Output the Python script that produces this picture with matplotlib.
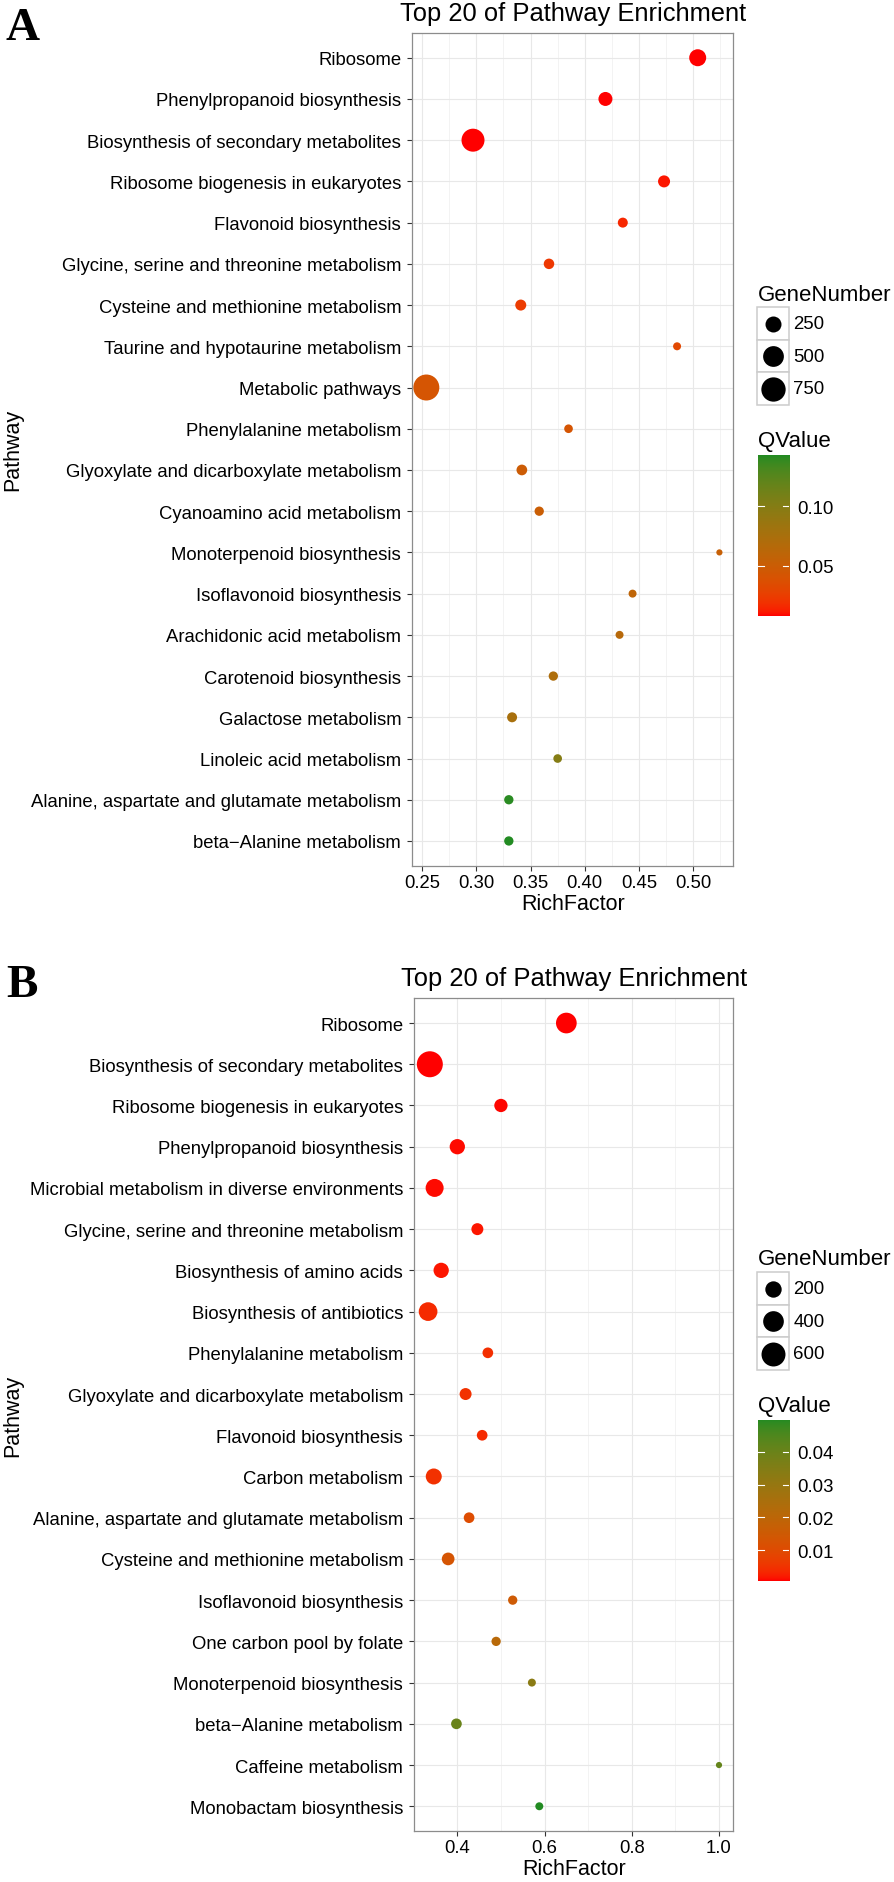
import numpy as np
import matplotlib
matplotlib.use("Agg")
import matplotlib.pyplot as plt
from matplotlib.colors import ListedColormap, Normalize
from matplotlib.patches import Rectangle

W, H, DPI = 894, 1883, 100
SANS = "Liberation Sans"
SERIF = "Liberation Serif"

# ---------------- panel A data ----------------
PATHWAYS_A = [
    "Ribosome", "Phenylpropanoid biosynthesis", "Biosynthesis of secondary metabolites",
    "Ribosome biogenesis in eukaryotes", "Flavonoid biosynthesis",
    "Glycine, serine and threonine metabolism", "Cysteine and methionine metabolism",
    "Taurine and hypotaurine metabolism", "Metabolic pathways", "Phenylalanine metabolism",
    "Glyoxylate and dicarboxylate metabolism", "Cyanoamino acid metabolism",
    "Monoterpenoid biosynthesis", "Isoflavonoid biosynthesis", "Arachidonic acid metabolism",
    "Carotenoid biosynthesis", "Galactose metabolism", "Linoleic acid metabolism",
    "Alanine, aspartate and glutamate metabolism", "beta\u2212Alanine metabolism",
]
RICH_A = [0.504, 0.419, 0.297, 0.473, 0.435, 0.367, 0.341, 0.485, 0.254, 0.385,
          0.342, 0.358, 0.524, 0.444, 0.432, 0.371, 0.333, 0.375, 0.330, 0.330]
GENES_A = [294, 174, 651, 116, 74, 83, 93, 50, 888, 56,
           87, 64, 43, 50, 50, 64, 74, 56, 64, 64]
QVAL_A = [0.0080, 0.0085, 0.0082, 0.011, 0.015, 0.022, 0.024, 0.032, 0.042, 0.042,
          0.049, 0.051, 0.053, 0.059, 0.065, 0.072, 0.076, 0.100, 0.141, 0.143]
RICH_TICKS_A = [0.25, 0.30, 0.35, 0.40, 0.45, 0.50]
RICH_LABELS_A = ["0.25", "0.30", "0.35", "0.40", "0.45", "0.50"]
XLIM_A = (0.2408, 0.5368)
SIZE_BREAKS_A = [250, 500, 750]
Q_BREAKS_A = [0.05, 0.10]

# ---------------- panel B data ----------------
PATHWAYS_B = [
    "Ribosome", "Biosynthesis of secondary metabolites", "Ribosome biogenesis in eukaryotes",
    "Phenylpropanoid biosynthesis", "Microbial metabolism in diverse environments",
    "Glycine, serine and threonine metabolism", "Biosynthesis of amino acids",
    "Biosynthesis of antibiotics", "Phenylalanine metabolism",
    "Glyoxylate and dicarboxylate metabolism", "Flavonoid biosynthesis", "Carbon metabolism",
    "Alanine, aspartate and glutamate metabolism", "Cysteine and methionine metabolism",
    "Isoflavonoid biosynthesis", "One carbon pool by folate", "Monoterpenoid biosynthesis",
    "beta\u2212Alanine metabolism", "Caffeine metabolism", "Monobactam biosynthesis",
]
RICH_B = [0.650, 0.337, 0.500, 0.400, 0.348, 0.446, 0.363, 0.333, 0.470, 0.419,
          0.457, 0.346, 0.427, 0.379, 0.527, 0.489, 0.571, 0.398, 1.000, 0.588]
GENES_B = [402, 745, 100, 161, 268, 68, 161, 300, 43, 68,
           43, 186, 43, 85, 23, 23, 11, 43, 5, 11]
QVAL_B = [0.0005, 0.0005, 0.0007, 0.0010, 0.0010, 0.0015, 0.0015, 0.0035, 0.0040, 0.0045,
          0.0035, 0.0045, 0.0105, 0.0130, 0.0150, 0.0210, 0.0330, 0.0400, 0.0410, 0.0498]
RICH_TICKS_B = [0.4, 0.6, 0.8, 1.0]
RICH_LABELS_B = ["0.4", "0.6", "0.8", "1.0"]
XLIM_B = (0.3007, 1.0328)
SIZE_BREAKS_B = [200, 400, 600]
Q_BREAKS_B = [0.01, 0.02, 0.03, 0.04]

# layout in reference pixels
LAYOUT_A = dict(left=412, right=733.3, top=34, bottom=866.7, letter="A", letter_xy=(6, 8),
                gene_title=301, keys_top=308.3, q_title=447, cbar_top=456, cbar_bottom=616.7)
LAYOUT_B = dict(left=414, right=733.3, top=999.3, bottom=1832, letter="B", letter_xy=(6, 965),
                gene_title=1265, keys_top=1273.3, q_title=1411.7, cbar_top=1420.7, cbar_bottom=1582.3)


def fx(x):
    return x / W


def fy(y):
    return 1 - y / H


# ggplot-like gradient (interpolated in CIE Lab)
def _to_lab(hexcol):
    rgb = np.array([int(hexcol[i:i + 2], 16) / 255 for i in (1, 3, 5)])
    lin = np.where(rgb <= 0.04045, rgb / 12.92, ((rgb + 0.055) / 1.055) ** 2.4)
    m = np.array([[0.4124, 0.3576, 0.1805], [0.2126, 0.7152, 0.0722], [0.0193, 0.1192, 0.9505]])
    xyz = m @ lin / np.array([0.95047, 1.0, 1.08883])
    f = np.where(xyz > (6 / 29) ** 3, np.cbrt(xyz), xyz / (3 * (6 / 29) ** 2) + 4 / 29)
    return np.array([116 * f[1] - 16, 500 * (f[0] - f[1]), 200 * (f[1] - f[2])])


def _from_lab(lab):
    fy_ = (lab[:, 0] + 16) / 116
    f = np.stack([fy_ + lab[:, 1] / 500, fy_, fy_ - lab[:, 2] / 200], axis=1)
    xyz = np.where(f > 6 / 29, f ** 3, 3 * (6 / 29) ** 2 * (f - 4 / 29)) * np.array([0.95047, 1.0, 1.08883])
    minv = np.linalg.inv(np.array([[0.4124, 0.3576, 0.1805], [0.2126, 0.7152, 0.0722], [0.0193, 0.1192, 0.9505]]))
    lin = xyz @ minv.T
    rgb = np.where(lin <= 0.0031308, 12.92 * lin, 1.055 * np.clip(lin, 0, None) ** (1 / 2.4) - 0.055)
    return np.clip(rgb, 0, 1)


lo, hi = _to_lab("#FF0000"), _to_lab("#228B22")
t = np.linspace(0, 1, 256)[:, None]
CMAP = ListedColormap(_from_lab(lo + t * (hi - lo)))


def diameter_px(v, vmin, vmax, dmin=6.2, dmax=26.0):
    v = np.asarray(v, dtype=float)
    return dmin + (dmax - dmin) * np.sqrt(np.clip((v - vmin) / (vmax - vmin), 0, 1))


def area_pt(d):
    return (d * 72 / DPI) ** 2


def draw_panel(fig, lay, pathways, rich, genes, qval, ticks, tick_labels, xlim, size_breaks, q_breaks):
    n = len(pathways)
    ax = fig.add_axes([fx(lay["left"]), fy(lay["bottom"]),
                       fx(lay["right"] - lay["left"]), (lay["bottom"] - lay["top"]) / H])
    gmin, gmax = min(genes), max(genes)
    qmin, qmax = min(qval), max(qval)
    norm = Normalize(qmin, qmax)
    ypos = np.arange(n)
    ax.scatter(rich, ypos, s=area_pt(diameter_px(genes, gmin, gmax)), c=qval, cmap=CMAP,
               norm=norm, linewidths=0, zorder=3)

    ax.set_xlim(*xlim)
    ax.set_ylim(n - 0.4, -0.6)
    ax.set_yticks(ypos)
    ax.set_yticklabels(pathways, fontsize=13.3, family=SANS)
    ax.set_xticks(ticks)
    ax.set_xticklabels(tick_labels, fontsize=13.3, family=SANS)
    step = ticks[1] - ticks[0]
    minor = [tk + step / 2 for tk in [ticks[0] - step] + list(ticks)]
    ax.set_xticks([m for m in minor if xlim[0] < m < xlim[1]], minor=True)
    ax.tick_params(axis="both", which="major", length=3.8, width=0.8, color="#333333", pad=4)
    ax.tick_params(axis="x", which="major", pad=2)
    ax.tick_params(axis="x", which="minor", length=0)
    ax.grid(which="major", color="#E8E8E8", lw=0.8, zorder=0)
    ax.grid(which="minor", axis="x", color="#F3F3F3", lw=0.7, zorder=0)
    ax.set_axisbelow(True)
    for sp in ax.spines.values():
        sp.set_color("#8C8C8C")
        sp.set_linewidth(0.9)

    ax.set_title("Top 20 of Pathway Enrichment", fontsize=18.4, family=SANS, pad=9.6)
    ax.set_xlabel("RichFactor", fontsize=15.5, family=SANS)
    ax.set_ylabel("Pathway", fontsize=15.5, family=SANS)
    ax_w = lay["right"] - lay["left"]
    ax_h = lay["bottom"] - lay["top"]
    ax.yaxis.set_label_coords((22.9 - lay["left"]) / ax_w, 0.5)
    ax.xaxis.set_label_coords(0.5, -27 / ax_h)

    lx, ly = lay["letter_xy"]
    fig.text(fx(lx), fy(ly), lay["letter"], family=SERIF, fontweight="bold", fontsize=34, va="top")

    # size legend
    key_w, key_h = 32, 32.5
    fig.text(fx(757.7), fy(lay["gene_title"]), "GeneNumber", family=SANS, fontsize=16, va="baseline")
    kax = fig.add_axes([fx(757.3), fy(lay["keys_top"] + 3 * key_h), key_w / W, 3 * key_h / H])
    kax.set_xlim(0, 1)
    kax.set_ylim(3, 0)
    kax.axis("off")
    for i, v in enumerate(size_breaks):
        kax.add_patch(Rectangle((0, i), 1, 1, facecolor="white", edgecolor="#CCCCCC",
                                lw=1.1, clip_on=False))
        kax.scatter([0.5], [i + 0.5], s=area_pt(diameter_px(v, gmin, gmax)), color="black",
                    linewidths=0, zorder=3, clip_on=False)
        kax.text(1.13, i + 0.5, str(v), family=SANS, fontsize=13.4, va="center", ha="left")

    # colour bar
    fig.text(fx(757.7), fy(lay["q_title"]), "QValue", family=SANS, fontsize=16, va="baseline")
    cax = fig.add_axes([fx(757.7), fy(lay["cbar_bottom"]), 31.6 / W,
                        (lay["cbar_bottom"] - lay["cbar_top"]) / H])
    grad = np.linspace(qmin, qmax, 256).reshape(-1, 1)
    cax.imshow(grad, cmap=CMAP, norm=norm, aspect="auto", origin="lower",
               extent=(0, 1, qmin, qmax))
    for q in q_breaks:
        cax.plot([0, 0.2], [q, q], color="white", lw=0.8)
        cax.plot([0.8, 1], [q, q], color="white", lw=0.8)
    cax.set_xlim(0, 1)
    cax.set_ylim(qmin, qmax)
    cax.set_xticks([])
    cax.yaxis.tick_right()
    cax.set_yticks(q_breaks)
    cax.set_yticklabels([f"{q:.2f}" for q in q_breaks], family=SANS, fontsize=13.4)
    cax.tick_params(axis="y", length=0, pad=6)
    for sp in cax.spines.values():
        sp.set_visible(False)


def main():
    fig = plt.figure(figsize=(W / DPI, H / DPI), dpi=DPI)
    draw_panel(fig, LAYOUT_A, PATHWAYS_A, RICH_A, GENES_A, QVAL_A, RICH_TICKS_A, RICH_LABELS_A,
               XLIM_A, SIZE_BREAKS_A, Q_BREAKS_A)
    draw_panel(fig, LAYOUT_B, PATHWAYS_B, RICH_B, GENES_B, QVAL_B, RICH_TICKS_B, RICH_LABELS_B,
               XLIM_B, SIZE_BREAKS_B, Q_BREAKS_B)
    fig.savefig("out.png", dpi=DPI)
    plt.close(fig)


if __name__ == "__main__":
    main()
